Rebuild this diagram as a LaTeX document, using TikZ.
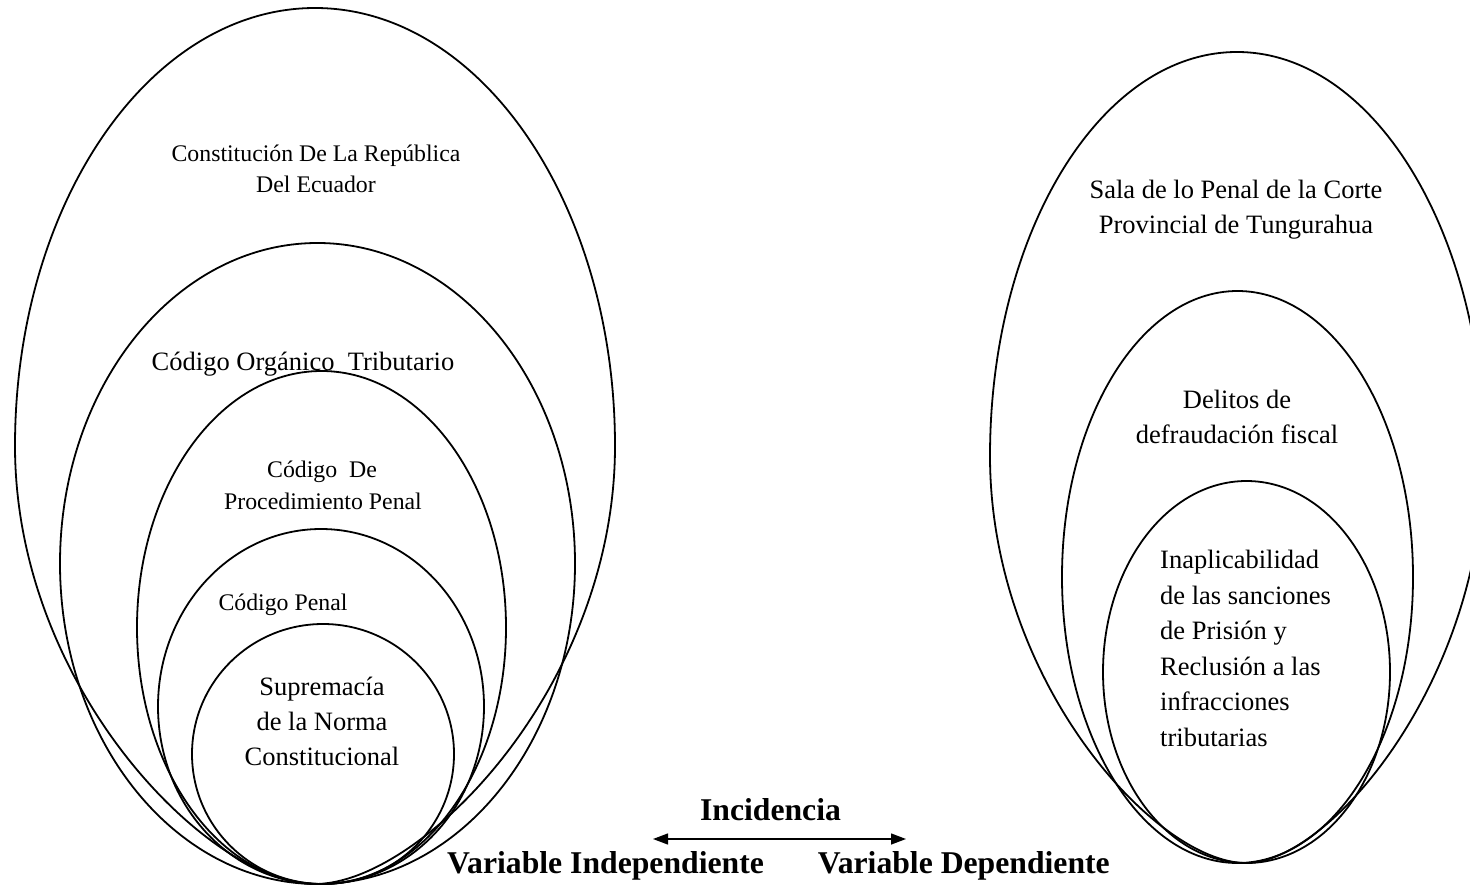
\documentclass[tikz,border=0pt]{standalone}
\usepackage{fontspec}
\setmainfont{Liberation Serif}
\usetikzlibrary{arrows.meta,shapes.geometric}
\begin{document}
\begin{tikzpicture}[x=1pt,y=-1pt,
  ringline/.style={draw, line width=1.8pt},
  ring/.style={draw, ellipse, line width=1.8pt, inner sep=0pt, outer sep=0pt},
  lt/.style={anchor=base, inner sep=0pt, font=\fontsize{23.8}{28}\selectfont},
  lb/.style={anchor=base, inner sep=0pt, font=\fontsize{26.5}{31}\selectfont},
  bt/.style={anchor=base, inner sep=0pt, font=\fontsize{31.7}{36}\selectfont\bfseries},
  li/.style={anchor=base west, inner sep=0pt, font=\fontsize{26.5}{31}\selectfont},
  biarrow/.style={line width=1.3pt, >={Triangle[length=15pt,width=11pt]}, <->}]
\useasboundingbox (0,0) rectangle (1470,888);
% left group: outer egg-shaped ring
\draw[ringline] (15,446) arc[start angle=180, end angle=0, x radius=300pt, y radius=438pt]
  .. controls (615,688) and (420,884) .. (315,884)
  .. controls (210,884) and (15,688) .. (15,446) -- cycle;
\node[ring, minimum width=515pt, minimum height=641pt] (e2) at (317.5,563.5) {};
\node[ring, minimum width=369pt, minimum height=513pt] (e3) at (321.5,627.5) {};
\node[ring, minimum width=326pt, minimum height=355pt] (e4) at (321,706.5) {};
\node[ring, minimum width=262pt, minimum height=260pt] (e5) at (323,754) {};
% right group: outer egg-shaped ring
\draw[ringline] (990,456) arc[start angle=180, end angle=0, x radius=247pt, y radius=404pt]
  .. controls (1484,681) and (1329,863) .. (1246,863)
  .. controls (1156,863) and (990,681) .. (990,456) -- cycle;
\node[ring, minimum width=351pt, minimum height=572pt] (r2) at (1237.5,577) {};
\node[ring, minimum width=287pt, minimum height=382pt] (r3) at (1246.5,672) {};
% left texts
\node[lt] (c1) at (316,161) {Constitución De La República};
\node[lt] (c2) at (316,193) {Del Ecuador};
\node[lb] (cot) at (303,370) {Código Orgánico\ \ Tributario};
\node[lt] (cp1) at (322,477) {Código\ \ De};
\node[lt] (cp2) at (323,509) {Procedimiento Penal};
\node[lt] (pen) at (283,610) {Código Penal};
\node[lb] (s1) at (322,695) {Supremacía};
\node[lb] (s2) at (322,730) {de la Norma};
\node[lb] (s3) at (322,765) {Constitucional};
% right texts
\node[lb] (ra) at (1236,198) {Sala de lo Penal de la Corte};
\node[lb] (rb) at (1236,233) {Provincial de Tungurahua};
\node[lb] (da) at (1237,408) {Delitos de};
\node[lb] (db) at (1237,443) {defraudación fiscal};
\node[li] (i1) at (1160,568) {Inaplicabilidad};
\node[li] (i2) at (1160,604) {de las sanciones};
\node[li] (i3) at (1160,639) {de Prisión y};
\node[li] (i4) at (1160,675) {Reclusión a las};
\node[li] (i5) at (1160,710) {infracciones};
\node[li] (i6) at (1160,746) {tributarias};
% bottom
\node[bt] (inc) at (770.5,820) {Incidencia};
\node[bt, anchor=base west] (vi) at (447,873) {Variable Independiente};
\node[bt, anchor=base east] (vd) at (1110,873) {Variable Dependiente};
\coordinate (al) at (653,839);
\coordinate (ar) at (906,839);
\draw[biarrow] (al) -- (ar);
\end{tikzpicture}
\end{document}
